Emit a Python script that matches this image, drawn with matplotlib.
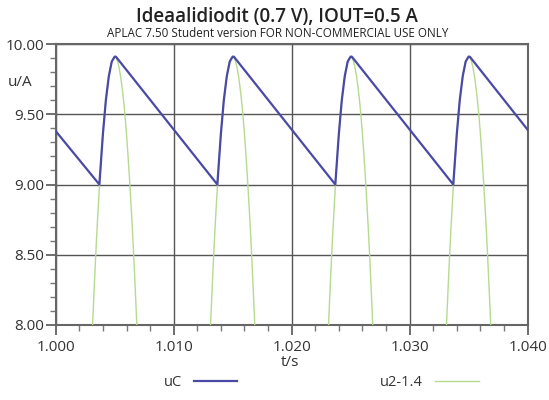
import matplotlib.pyplot as plt
from matplotlib.ticker import MultipleLocator, FormatStrFormatter

# uC: capacitor voltage (sawtooth)
uc_t = [1.0000,
        1.0037, 1.00385, 1.0040, 1.00425, 1.0045, 1.00475, 1.0050, 1.0051,
        1.0137, 1.01385, 1.0140, 1.01425, 1.0145, 1.01475, 1.0150, 1.0151,
        1.0237, 1.02385, 1.0240, 1.02425, 1.0245, 1.02475, 1.0250, 1.0251,
        1.0337, 1.03385, 1.0340, 1.03425, 1.0345, 1.03475, 1.0350, 1.0351,
        1.0400]
uc_v = [9.38,
        9.00, 9.18, 9.36, 9.60, 9.77, 9.875, 9.91, 9.91,
        9.00, 9.18, 9.36, 9.60, 9.77, 9.875, 9.91, 9.91,
        9.00, 9.18, 9.36, 9.60, 9.77, 9.875, 9.91, 9.91,
        9.00, 9.18, 9.36, 9.60, 9.77, 9.875, 9.91, 9.91,
        9.39]

# u2-1.4: rectified hump, same shape each half period (offset in ms from the peak)
peak_t = [1.005, 1.015, 1.025, 1.035]
hump_dt = [-2.0, -1.875, -1.75, -1.625, -1.5, -1.375, -1.25, -1.125, -1.0,
           -0.875, -0.75, -0.625, -0.5, -0.375, -0.25, -0.125, 0.0,
           0.125, 0.25, 0.375, 0.5, 0.625, 0.75, 0.875, 1.0,
           1.125, 1.25, 1.375, 1.5, 1.625, 1.75, 1.875, 2.0]
hump_v = [7.75, 8.00, 8.24, 8.47, 8.68, 8.87, 9.05, 9.21, 9.36,
          9.49, 9.60, 9.69, 9.77, 9.83, 9.875, 9.90, 9.91,
          9.90, 9.875, 9.83, 9.77, 9.69, 9.60, 9.49, 9.36,
          9.21, 9.05, 8.87, 8.68, 8.47, 8.24, 8.00, 7.75]

x_ticks = [1.000, 1.010, 1.020, 1.030, 1.040]
y_ticks = [8.00, 8.50, 9.00, 9.50, 10.00]

plt.rcParams['font.family'] = ['Open Sans', 'DejaVu Sans']

fig = plt.figure(figsize=(5.49, 4.0), dpi=100)
ax = fig.add_axes([0.1015, 0.1875, 0.8595, 0.7025])

blue = '#4a4aa6'
green = '#b6da8e'

first = True
for p in peak_t:
    gt = [p + d / 1000.0 for d in hump_dt]
    ax.plot(gt, hump_v, color=green, lw=1.0, label='u2-1.4' if first else None, zorder=3)
    first = False
ax.plot(uc_t, uc_v, color=blue, lw=1.6, label='uC', zorder=4)

ax.set_xlim(1.000, 1.040)
ax.set_ylim(8.00, 10.00)
ax.set_xticks(x_ticks)
ax.set_yticks(y_ticks)
ax.xaxis.set_major_formatter(FormatStrFormatter('%.3f'))
ax.yaxis.set_major_formatter(FormatStrFormatter('%.2f'))
ax.xaxis.set_minor_locator(MultipleLocator(0.002))
ax.yaxis.set_minor_locator(MultipleLocator(0.1))
ax.tick_params(which='major', length=7, width=1.2, color='#555555', labelsize=11, labelcolor='#333333')
ax.tick_params(which='minor', length=4, width=1.0, color='#777777')
ax.tick_params(axis='y', which='major', pad=1)
ax.grid(True, which='major', color='#555555', lw=1.0)
for s in ax.spines.values():
    s.set_color('#666666')
    s.set_linewidth(1.5)

fig.text(0.505, 0.957, 'Ideaalidiodit (0.7 V), IOUT=0.5 A', ha='center', va='center',
         fontsize=13.5, fontweight='semibold', color='#222222')
fig.text(0.505, 0.916, 'APLAC 7.50 Student version FOR NON-COMMERCIAL USE ONLY', ha='center',
         va='center', fontsize=8.4, color='#222222')
fig.text(0.015, 0.795, 'u/A', ha='left', va='center', fontsize=11, color='#333333')
fig.text(0.528, 0.093, 't/s', ha='center', va='center', fontsize=11, color='#333333')

handles, labels = ax.get_legend_handles_labels()
order = [labels.index('uC'), labels.index('u2-1.4')]
fig.legend([handles[i] for i in order], [labels[i] for i in order], loc='center',
           bbox_to_anchor=(0.585, 0.043), ncol=2, frameon=False, markerfirst=False,
           handlelength=3.0, columnspacing=9.8, fontsize=10.5, labelcolor='#333333')

fig.savefig('out.png', dpi=100)
